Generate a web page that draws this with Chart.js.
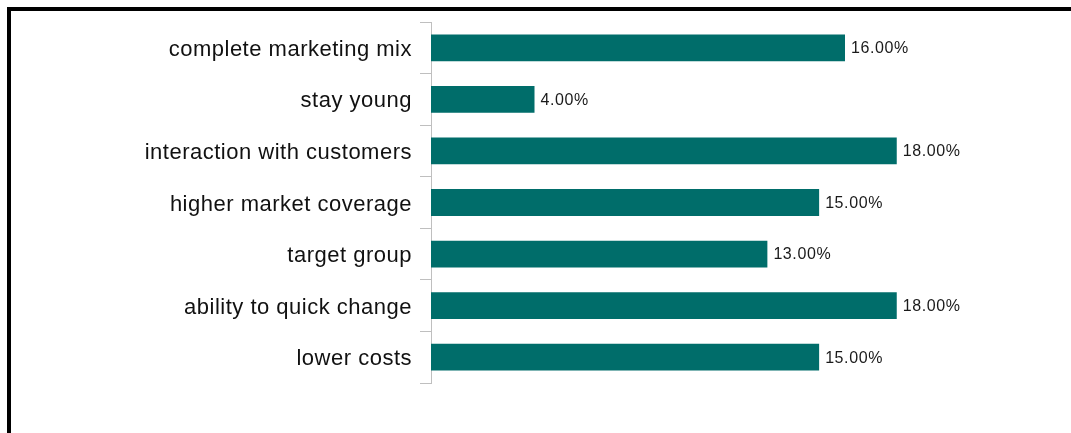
<!DOCTYPE html>
<html>
<head>
<meta charset="utf-8">
<script src="https://cdn.jsdelivr.net/npm/chart.js@4.4.1/dist/chart.umd.min.js"></script>
<style>
  html, body { margin: 0; padding: 0; background: #fff; }
  #wrap { position: relative; width: 1071px; height: 433px; overflow: hidden; }
  #frame {
    position: absolute; left: 7px; top: 7px; right: -10px; bottom: -10px;
    border-left: 4px solid #000; border-top: 4px solid #000;
    box-sizing: border-box; pointer-events: none;
  }
  canvas { position: absolute; left: 0; top: 0; }
</style>
</head>
<body>
<div id="wrap">
  <canvas id="c" width="1071" height="433"></canvas>
  <div id="frame"></div>
</div>
<script>
// Categories, top to bottom
const categories = [
  'complete marketing mix',
  'stay young',
  'interaction with customers',
  'higher market coverage',
  'target group',
  'ability to quick change',
  'lower costs'
];
// Share of answers, in percent
const shares = [16, 4, 18, 15, 13, 18, 15];

const barColor = '#006d6a';
const axisGray = '#bfbfbf';

// Slightly wider letter spacing for the category names
const spacedText = {
  id: 'spacedText',
  beforeDraw(chart) { chart.ctx.letterSpacing = '0.5px'; },
  afterDraw(chart) { chart.ctx.letterSpacing = '0px'; }
};

// Writes each value as "16.00%" just past the end of its bar
const valueLabels = {
  id: 'valueLabels',
  afterDatasetsDraw(chart) {
    const ctx = chart.ctx;
    const meta = chart.getDatasetMeta(0);
    ctx.save();
    ctx.letterSpacing = '0.6px';
    ctx.font = '16px "Liberation Sans", Arial, sans-serif';
    ctx.fillStyle = '#1a1a1a';
    ctx.textAlign = 'left';
    ctx.textBaseline = 'middle';
    meta.data.forEach((bar, i) => {
      const v = chart.data.datasets[0].data[i];
      ctx.fillText(v.toFixed(2) + '%', bar.x + 6, bar.y + 1);
    });
    ctx.restore();
  }
};

new Chart(document.getElementById('c'), {
  type: 'bar',
  data: {
    labels: categories,
    datasets: [{
      data: shares,
      backgroundColor: barColor,
      borderWidth: 0,
      barPercentage: 0.52,
      categoryPercentage: 1
    }]
  },
  options: {
    indexAxis: 'y',
    responsive: false,
    animation: false,
    devicePixelRatio: 1,
    layout: { padding: { left: 0, top: 22, right: 19, bottom: 50 } },
    plugins: {
      legend: { display: false },
      tooltip: { enabled: false }
    },
    scales: {
      x: {
        display: false,
        min: 0,
        max: 24
      },
      y: {
        afterFit(scale) { scale.width = 431; },
        grid: {
          offset: true,
          drawOnChartArea: false,
          drawTicks: true,
          tickLength: 11,
          color: axisGray,
          lineWidth: 1
        },
        border: { display: true, color: axisGray, width: 1 },
        ticks: {
          padding: 8,
          labelOffset: 2,
          color: '#111',
          font: { family: '"Liberation Sans", Arial, sans-serif', size: 22 }
        }
      }
    }
  },
  plugins: [spacedText, valueLabels]
});
</script>
</body>
</html>
